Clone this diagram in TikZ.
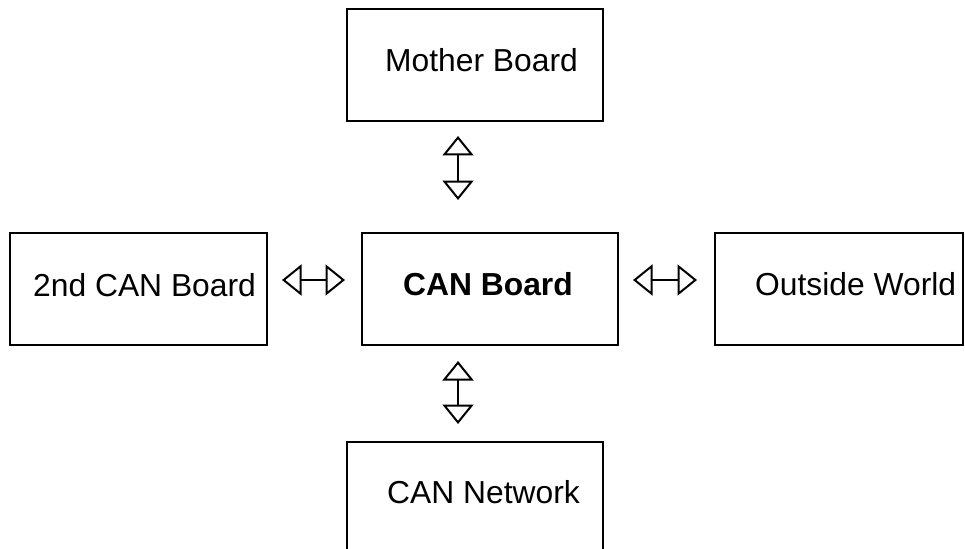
\documentclass[tikz,border=0pt]{standalone}
\usepackage{fontspec}
\setmainfont{Liberation Sans}
\usetikzlibrary{arrows.meta,calc}
\begin{document}
\begin{tikzpicture}[x=1pt,y=-1pt,
  box/.style={draw,line width=2pt,minimum width=256pt,minimum height=112pt,inner sep=0pt,outer sep=0pt},
  lbl/.style={anchor=base west,inner sep=0pt,font=\fontsize{31.8}{38}\selectfont},
  link/.style={line width=2pt,
    {Triangle[open,length=19.5pt,width=31pt,line join=miter]}-{Triangle[open,length=19.5pt,width=31pt,line join=miter]}}]
\useasboundingbox (0,0) rectangle (965,548);
\clip (0,0) rectangle (965,548);
\fill[white] (0,0) rectangle (965,548);

% boxes
\node[box] (mother) at (475,65) {};
\node[box,minimum width=257pt] (second) at (138.5,289) {};
\node[box] (can) at (490,289) {};
\node[box,minimum width=248pt] (outside) at (839,289) {};
\node[box] (network) at (475,498) {};

% labels
\node[lbl] (motherT) at (385,72) {Mother Board};
\node[lbl] (secondT) at (33,296) {2nd CAN Board};
\node[lbl,font=\fontsize{31.8}{38}\selectfont\bfseries] (canT) at (403,295) {CAN Board};
\node[lbl] (outsideT) at (755,295) {Outside World};
\node[lbl] (networkT) at (387,503) {CAN Network};

% double-headed links
\coordinate (up) at ([xshift=-32pt]can.north);
\coordinate (dn) at ([xshift=-32pt]can.south);
\draw[link,shorten <=15pt,shorten >=33pt] (up |- mother.south) -- (up);
\draw[link,shorten <=16pt,shorten >=18pt] (dn) -- (dn |- network.north);
\draw[link,shorten <=15pt,shorten >=17pt] ([yshift=9pt]second.east) -- ([yshift=9pt]can.west);
\draw[link,shorten <=15pt,shorten >=18pt] ([yshift=9pt]can.east) -- ([yshift=9pt]outside.west);
\end{tikzpicture}
\end{document}
